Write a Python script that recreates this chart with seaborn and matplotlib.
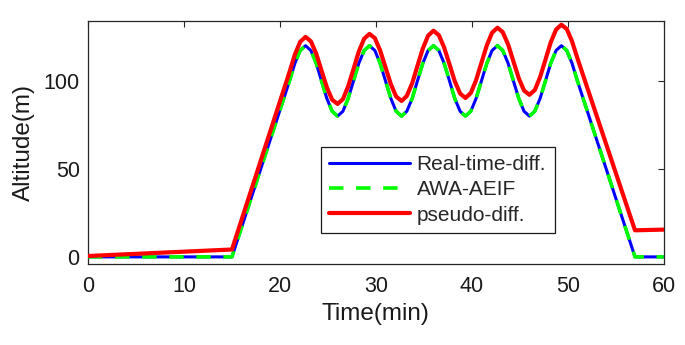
import pandas as pd
import matplotlib
matplotlib.use("Agg")
import matplotlib.pyplot as plt
import seaborn as sns

# time axis (min)
tiempo = [0, 15,
          21.00, 21.56, 22.11, 22.67, 23.22, 23.78, 24.33, 24.89, 25.44, 26.00,
          26.56, 27.11, 27.67, 28.22, 28.78, 29.33, 29.89, 30.44, 31.00, 31.56,
          32.11, 32.67, 33.22, 33.78, 34.33, 34.89, 35.44, 36.00, 36.56, 37.11,
          37.67, 38.22, 38.78, 39.33, 39.89, 40.44, 41.00, 41.56, 42.11, 42.67,
          43.22, 43.78, 44.33, 44.89, 45.44, 46.00, 46.56, 47.11, 47.67, 48.22,
          48.78, 49.33, 49.89, 50.44, 51.00,
          57, 60]

realTime = [0, 0,
            100, 110, 117.3, 120, 117.3, 110, 100, 90, 82.7, 80,
            82.7, 90, 100, 110, 117.3, 120, 117.3, 110, 100, 90,
            82.7, 80, 82.7, 90, 100, 110, 117.3, 120, 117.3, 110,
            100, 90, 82.7, 80, 82.7, 90, 100, 110, 117.3, 120,
            117.3, 110, 100, 90, 82.7, 80, 82.7, 90, 100, 110,
            117.3, 120, 117.3, 110, 100,
            0, 0]

awaAeif = list(realTime)

pseudo = [0.5, 4.2,
          105.1, 115.0, 122.2, 125.0, 122.5, 115.5, 105.9, 96.3, 89.3, 86.9,
          89.6, 96.9, 106.8, 116.7, 124.0, 126.7, 124.3, 117.3, 107.7, 98.1,
          91.1, 88.6, 91.4, 98.6, 108.5, 118.4, 125.7, 128.5, 126.0, 119.0,
          109.4, 99.8, 92.8, 90.3, 93.1, 100.4, 110.3, 120.2, 127.4, 130.2,
          127.7, 120.7, 111.1, 101.5, 94.5, 92.1, 94.8, 102.1, 112.0, 121.9,
          129.2, 131.9, 129.5, 122.5, 112.9,
          15.1, 15.5]

rotulos = ['Real-time-diff.', 'AWA-AEIF', 'pseudo-diff.']

df = pd.DataFrame({'t': tiempo, 'rt': realTime, 'awa': awaAeif, 'ps': pseudo})

sns.set_style("white")
plt.rcParams['font.family'] = ['Liberation Sans', 'DejaVu Sans']
plt.rcParams['lines.solid_joinstyle'] = 'round'
plt.rcParams['lines.dash_joinstyle'] = 'round'

fig = plt.figure(figsize=(6.85, 3.45), dpi=100)
ax = fig.add_axes([0.1285, 0.235, 0.8405, 0.704])

sns.lineplot(data=df, x='t', y='rt', ax=ax, color=(0, 0, 1), linewidth=2.2,
             label=rotulos[0], sort=False, zorder=3)
sns.lineplot(data=df, x='t', y='awa', ax=ax, color=(0, 1, 0), linewidth=2.6,
             dashes=False, label=rotulos[1], sort=False, zorder=4)
ax.lines[-1].set_dashes((4, 3.5))
sns.lineplot(data=df, x='t', y='ps', ax=ax, color=(1, 0, 0), linewidth=3,
             label=rotulos[2], sort=False, zorder=5)

ax.set_xlim(0, 60)
ax.set_ylim(-4, 134)
ax.set_xticks([0, 10, 20, 30, 40, 50, 60])
ax.set_yticks([0, 50, 100])
ax.tick_params(direction='in', length=4, width=0.8, colors='0.15',
               labelsize=15.5, top=True, right=True, labelcolor='0.1')
ax.tick_params(axis='x', pad=9)
ax.tick_params(axis='y', pad=6)
for s in ax.spines.values():
    s.set_color('0.15')
    s.set_linewidth(0.9)

ax.set_xlabel('Time(min)', fontsize=17.5, color='0.1', labelpad=4)
ax.set_ylabel('Altitude(m)', fontsize=17.5, color='0.1', labelpad=6)

leg = ax.legend(loc='lower left', bbox_to_anchor=(0.4045, 0.1276),
                fontsize=15, handlelength=3.9, handletextpad=0.3,
                borderpad=0.4, labelspacing=0.3, fancybox=False,
                framealpha=1, edgecolor='0.1', borderaxespad=0)
leg.get_frame().set_linewidth(0.9)

plt.savefig('out.png', dpi=100)
